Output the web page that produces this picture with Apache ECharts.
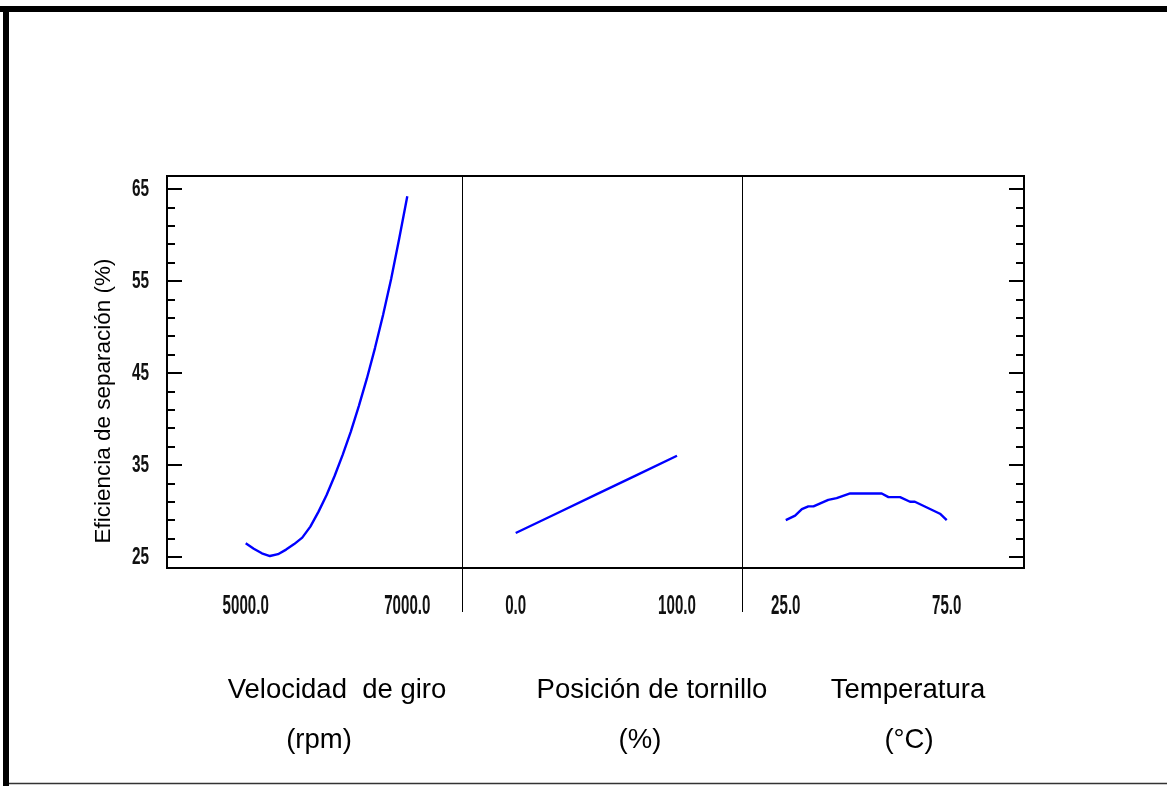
<!DOCTYPE html>
<html>
<head>
<meta charset="utf-8">
<script src="https://cdn.jsdelivr.net/npm/echarts@6/dist/echarts.min.js"></script>
<style>
html,body{margin:0;padding:0;background:#fff;}
#c{width:1167px;height:786px;}
</style>
</head>
<body>
<div id="c"></div>
<script>
// ---- data ----
const rpm = [5000,5100,5200,5300,5400,5500,5600,5700,5800,5900,6000,6100,6200,6300,6400,6500,6600,6700,6800,6900,7000];
const eficRpm = [26.5,25.9,25.4,25.1,25.3,25.8,26.4,27.1,28.3,29.9,31.7,33.8,36.1,38.6,41.4,44.4,47.7,51.3,55.2,59.6,64.2];

const posicion = [0,25,50,75,100];
const eficPos = [27.6,29.7,31.8,33.9,36.0];

const temp = [25,27.9,30,32,33.6,38.2,40.8,45,54.8,56.9,60.5,63.6,65.1,72.9,75];
const eficTemp = [29.0,29.5,30.2,30.5,30.5,31.2,31.4,31.9,31.9,31.5,31.5,31.0,31.0,29.7,29.0];

const yMajorTicks = [25,35,45,55,65];
const yMinorTicks = [27,29,31,33,37,39,41,43,47,49,51,53,57,59,61,63];
const rpmTicks = [5000,7000];
const posTicks = [0,100];
const tempTicks = [25,75];

const yTitle = 'Eficiencia de separación (%)';
const xTitles = [
  ['Velocidad  de giro','(rpm)'],
  ['Posición de tornillo','(%)'],
  ['Temperatura','(°C)']
];

// ---- chart ----
const chart = echarts.init(document.getElementById('c'), null, {renderer:'canvas'});
const Y_MIN = 23.8, Y_MAX = 66.4;
const sansFont = "'Liberation Sans',Arial,sans-serif";
const pair = (xs, ys) => xs.map((x,i)=>[x, ys[i]]);

function xAx(grid, min, max){
  return {type:'value', gridIndex:grid, min:min, max:max,
    axisLine:{show:false}, axisTick:{show:false}, splitLine:{show:false}, axisLabel:{show:false}};
}
function yAx(grid, pos, ticks, len){
  return {type:'value', gridIndex:grid, position:pos, min:Y_MIN, max:Y_MAX,
    axisLine:{show:false}, splitLine:{show:false}, axisLabel:{show:false},
    axisTick:{show:len>0, inside:true, length:len, customValues:ticks, lineStyle:{color:'#000', width:2}}};
}

const lineStyle = {color:'#0000ff', width:2.4};
function ser(xi, yi, data){
  return {type:'line', xAxisIndex:xi, yAxisIndex:yi, data:data, showSymbol:false,
    lineStyle:lineStyle, itemStyle:{color:'#0000ff'}, silent:true, animation:false};
}

chart.setOption({
  animation:false,
  backgroundColor:'#fff',
  grid:[
    {left:167, top:176, width:295, height:392},
    {left:462, top:176, width:280, height:392},
    {left:742, top:176, width:282, height:392}
  ],
  xAxis:[
    xAx(0, 4026, 7677),
    xAx(1, -33.3, 140.3),
    xAx(2, 11.4, 99.0)
  ],
  yAxis:[
    yAx(0,'left', yMajorTicks, 15),
    yAx(0,'left', yMinorTicks, 8),
    yAx(1,'left', [], 0),
    yAx(2,'right', yMajorTicks, 15),
    yAx(2,'right', yMinorTicks, 8)
  ],
  series:[
    ser(0, 0, pair(rpm, eficRpm)),
    ser(1, 2, pair(posicion, eficPos)),
    ser(2, 3, pair(temp, eficTemp))
  ]
});

// frame, titles, and condensed tick labels placed through the axes' scales
const graphics = [
  {type:'rect', shape:{x:0,y:6,width:1167,height:6}, style:{fill:'#000'}},
  {type:'rect', shape:{x:3,y:6,width:6,height:780}, style:{fill:'#000'}},
  {type:'line', shape:{x1:9,y1:783.5,x2:1167,y2:783.5}, style:{stroke:'#333',lineWidth:1.5}},
  {type:'rect', shape:{x:167,y:176,width:857,height:392}, style:{fill:null, stroke:'#000', lineWidth:2}, z:10},
  {type:'line', shape:{x1:462.5,y1:176,x2:462.5,y2:612}, style:{stroke:'#000',lineWidth:1}, z:10},
  {type:'line', shape:{x1:742.5,y1:176,x2:742.5,y2:612}, style:{stroke:'#000',lineWidth:1}, z:10},
  {type:'text', x:104, y:401, rotation:Math.PI/2,
    style:{text:yTitle, font:"22.5px "+sansFont, fill:'#000', align:'center', verticalAlign:'middle'}}
];
const titleX = [[337,319],[652,640],[908,909]];
xTitles.forEach((t,i)=>{
  graphics.push({type:'text', x:titleX[i][0], y:690, style:{text:t[0], font:"27.5px "+sansFont, fill:'#000', align:'center', verticalAlign:'middle'}});
  graphics.push({type:'text', x:titleX[i][1], y:740, style:{text:t[1], font:"27.5px "+sansFont, fill:'#000', align:'center', verticalAlign:'middle'}});
});
// y tick labels
yMajorTicks.forEach(v=>{
  const py = chart.convertToPixel({yAxisIndex:0}, v);
  graphics.push({type:'text', x:149, y:py, scaleX:0.64,
    style:{text:String(v), font:"bold 24px "+sansFont, fill:'#111', align:'right', verticalAlign:'middle'}});
});
// x tick labels
[[0,rpmTicks],[1,posTicks],[2,tempTicks]].forEach(([ai,ticks])=>{
  ticks.forEach(v=>{
    const px = chart.convertToPixel({xAxisIndex:ai}, v);
    graphics.push({type:'text', x:px, y:606, scaleX:0.54,
      style:{text:v.toFixed(1), font:"bold 28px "+sansFont, fill:'#111', align:'center', verticalAlign:'middle'}});
  });
});
chart.setOption({graphic: graphics});
</script>
</body>
</html>
